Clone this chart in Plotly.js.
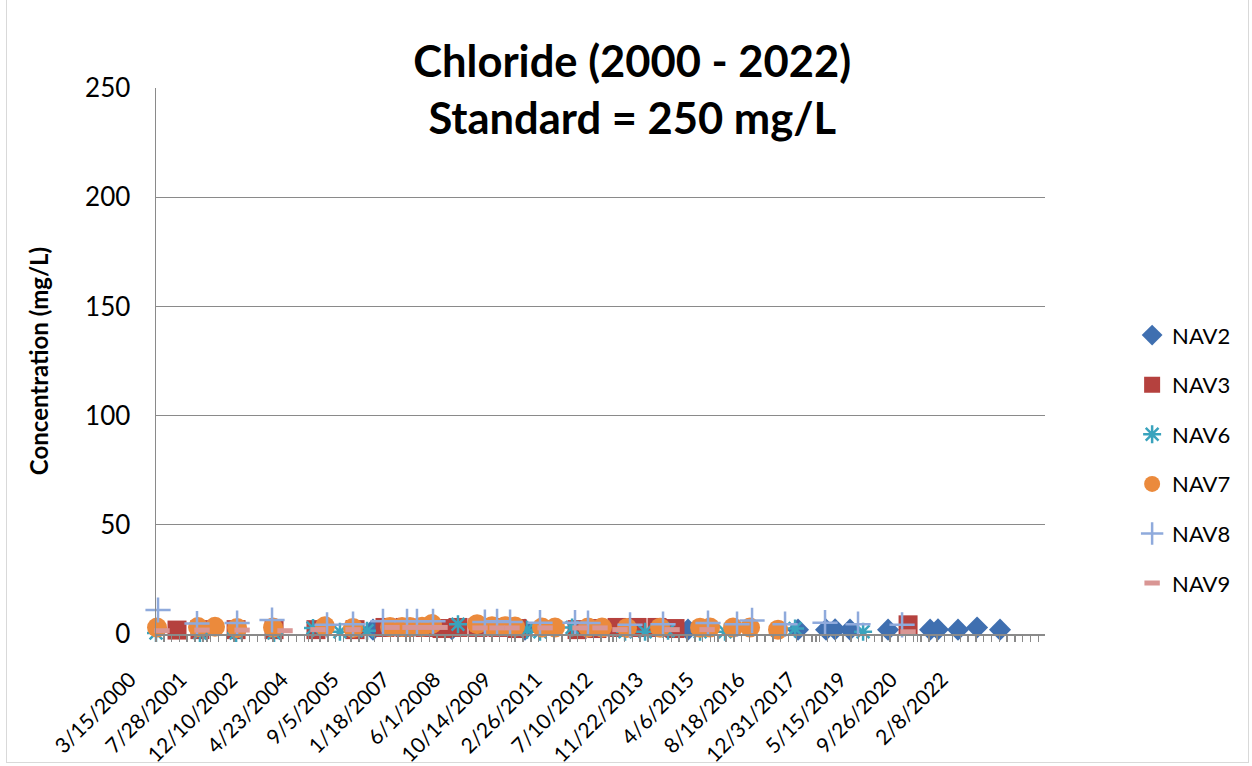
<!DOCTYPE html>
<html>
<head>
<meta charset="utf-8">
<script src="https://cdn.plot.ly/plotly-3.0.1.min.js"></script>
<style>
  html, body { margin: 0; padding: 0; background: #fff; }
  #frame { position: absolute; left: 6px; top: -1px; width: 1241px; height: 762px; border: 1px solid #d9d9d9; pointer-events: none; }
  #chart { position: absolute; left: 0; top: 0; width: 1252px; height: 766px; }
</style>
</head>
<body>
<div id="chart"></div>
<div id="frame"></div>
<script>
// ---- data (mg/L) ----
const nav2Dates = ['2006-01-21','2008-03-09','2010-02-26','2014-07-21','2017-07-09','2018-04-11','2018-07-09','2018-12-03','2019-12-13','2021-01-30','2021-04-18','2021-11-01','2022-05-08','2022-12-20'];
const nav2Vals  = [2.0, 2.2, 2.0, 2.0, 2.0, 2.0, 2.1, 2.0, 2.0, 2.0, 2.1, 2.0, 3.0, 2.0];

const nav3Dates = ['2000-10-08','2001-05-22','2002-05-13','2003-05-22','2004-07-08','2005-07-28','2006-05-19','2006-12-02','2007-06-17','2007-12-02','2008-05-07','2008-11-20','2009-06-05','2009-12-10','2011-07-24','2012-02-05','2012-08-21','2013-03-06','2013-09-19','2014-03-15','2020-06-27'];
const nav3Vals  = [1.8, 2.0, 2.0, 2.0, 2.0, 2.0, 3.0, 3.0, 3.0, 2.5, 3.0, 3.0, 3.0, 2.5, 2.0, 2.5, 3.0, 3.0, 3.0, 2.5, 4.2];

const nav6Dates = ['2000-03-15','2001-05-22','2002-05-13','2003-05-22','2004-06-09','2005-03-01','2005-11-23','2008-05-07','2010-03-18','2010-07-24','2011-06-05','2012-11-08','2013-05-24','2014-01-05','2014-11-17','2015-07-21','2017-06-10','2019-04-11'];
const nav6Vals  = [0.5, 0.5, 0.5, 0.5, 2.7, 1.0, 1.5, 4.5, 2.0, 1.0, 3.0, 1.0, 1.0, 1.5, 1.0, 1.0, 2.5, 1.0];

const nav7Dates = ['2000-03-25','2001-05-03','2001-10-17','2002-05-23','2003-05-12','2004-10-05','2005-07-08','2006-07-07','2006-11-03','2007-01-20','2007-05-19','2007-08-25','2008-11-11','2009-04-07','2009-08-13','2009-11-20','2010-08-13','2010-12-19','2011-11-09','2012-03-26','2012-11-27','2013-10-19','2014-11-17','2015-02-23','2015-10-08','2016-03-23','2016-12-24'];
const nav7Vals  = [3.0, 3.2, 3.3, 2.8, 3.0, 3.5, 2.8, 3.2, 3.2, 3.2, 3.3, 4.6, 4.5, 3.6, 3.6, 3.4, 3.0, 3.0, 3.0, 3.0, 2.8, 2.9, 2.9, 3.0, 3.0, 3.0, 2.0];

const nav8Dates = ['2000-04-04','2001-04-23','2002-05-23','2003-05-02','2004-10-25','2005-07-08','2006-04-29','2006-12-22','2007-03-30','2007-09-04','2009-01-27','2009-05-27','2009-10-02','2010-07-24','2011-07-04','2011-11-09','2012-12-27','2013-11-17','2015-02-03','2015-11-16','2016-04-12','2017-03-03','2018-04-01','2019-02-20','2020-04-29'];
const nav8Vals  = [11.0, 4.8, 5.0, 6.4, 4.2, 4.5, 5.8, 5.8, 5.8, 5.8, 5.5, 5.8, 5.5, 5.2, 5.2, 5.0, 4.2, 4.5, 5.0, 4.5, 6.2, 4.5, 5.2, 4.5, 4.2];

const nav9Dates = ['2000-05-13','2001-06-11','2002-07-11','2003-09-07','2004-07-28','2005-07-08','2006-07-27','2007-01-20','2007-06-17','2007-11-12','2008-12-10','2009-05-27','2009-10-21','2010-09-12','2011-08-22','2012-03-06','2012-09-19','2014-02-14','2015-01-25','2020-06-27'];
const nav9Vals  = [1.5, 1.8, 1.8, 1.5, 2.0, 2.0, 3.0, 3.0, 3.0, 3.0, 2.8, 2.8, 2.8, 2.8, 2.8, 2.8, 2.0, 2.0, 2.0, 1.0];

const seriesNames = ['NAV2','NAV3','NAV6','NAV7','NAV8','NAV9'];
const xTickDates = ['2000-03-15','2001-07-28','2002-12-10','2004-04-23','2005-09-05','2007-01-18','2008-06-01','2009-10-14','2011-02-26','2012-07-10','2013-11-22','2015-04-06','2016-08-18','2017-12-31','2019-05-15','2020-09-26','2022-02-08'];
const xTickLabels = ['3/15/2000','7/28/2001','12/10/2002','4/23/2004','9/5/2005','1/18/2007','6/1/2008','10/14/2009','2/26/2011','7/10/2012','11/22/2013','4/6/2015','8/18/2016','12/31/2017','5/15/2019','9/26/2020','2/8/2022'];
const titleLines = ['Chloride (2000 - 2022)', 'Standard = 250 mg/L'];
const yTitle = 'Concentration (mg/L)';

// ---- styling ----
const FONT = 'Lato, "Liberation Sans", sans-serif';
const DAY = 86400000;

const styles = [
  {symbol: 'diamond', size: 17, color: '#3F6FB0'},
  {symbol: 'square', size: 19, color: '#B5413E'},
  {symbol: 'asterisk-open', size: 15, color: '#3AA3BD', line: {color: '#3AA3BD', width: 2.5}},
  {symbol: 'circle', size: 20, color: '#EB8A3C'},
  {symbol: 'cross-thin-open', size: 18, color: '#8FAADC', line: {color: '#8FAADC', width: 2.5}},
  {symbol: 'line-ew-open', size: 11, color: '#D99694', line: {color: '#D99694', width: 5}}
];
const xs = [nav2Dates, nav3Dates, nav6Dates, nav7Dates, nav8Dates, nav9Dates];
const ys = [nav2Vals, nav3Vals, nav6Vals, nav7Vals, nav8Vals, nav9Vals];

const traces = seriesNames.map((n, i) => {
  const s = styles[i];
  const marker = {symbol: s.symbol, size: s.size, color: s.color};
  if (s.line) marker.line = s.line; else marker.line = {width: 0};
  return {
    type: 'scatter', mode: 'markers', name: n, x: xs[i], y: ys[i],
    marker: marker, cliponaxis: false, legendgroup: n, hoverinfo: 'x+y+name'
  };
});

const layout = {
  width: 1252, height: 766,
  margin: {l: 156, r: 207, t: 88, b: 132},
  paper_bgcolor: '#ffffff', plot_bgcolor: '#ffffff',
  font: {family: FONT, color: '#000'},
  title: {
    text: '<b>' + titleLines.join('<br>') + '</b>',
    x: 0.505, xref: 'container', xanchor: 'center',
    y: 1 - 77/766, yref: 'container', yanchor: 'middle',
    font: {family: FONT, size: 43.5, color: '#000'}
  },
  xaxis: {
    type: 'date',
    range: ['2000-03-15', '2024-03-07'],
    tickmode: 'array', tickvals: xTickDates, ticktext: xTickLabels,
    tickangle: -45,
    tickfont: {family: FONT, size: 21, color: '#000'},
    ticklabelstandoff: 17, ticklabelshift: -26,
    ticks: 'outside', ticklen: 6, tickwidth: 1.5, tickcolor: '#8a8a8a',
    minor: {ticks: 'outside', dtick: 500/6.5*DAY, tick0: '2000-03-15', ticklen: 6, tickwidth: 1.5, tickcolor: '#8a8a8a', showgrid: false},
    showgrid: false, zeroline: false,
    showline: true, linecolor: '#8a8a8a', linewidth: 2,
    fixedrange: true
  },
  yaxis: {
    range: [0, 250], tickmode: 'linear', tick0: 0, dtick: 50,
    tickfont: {family: FONT, size: 26, color: '#000'},
    ticks: '', ticklabelstandoff: 19,
    showgrid: true, gridcolor: '#8a8a8a', gridwidth: 1.3,
    zeroline: false, showline: true, linecolor: '#8a8a8a', linewidth: 1.5,
    title: {text: '<b>' + yTitle + '</b>', font: {family: FONT, size: 24, color: '#000'}, standoff: 29},
    fixedrange: true
  },
  legend: {
    x: 1.098, xanchor: 'left', y: 0.32, yanchor: 'middle',
    font: {family: FONT, size: 22, color: '#000'},
    tracegroupgap: 18, itemsizing: 'trace', bgcolor: 'rgba(0,0,0,0)'
  },
  showlegend: true
};

Plotly.newPlot('chart', traces, layout, {displayModeBar: false, staticPlot: true});
</script>
</body>
</html>
